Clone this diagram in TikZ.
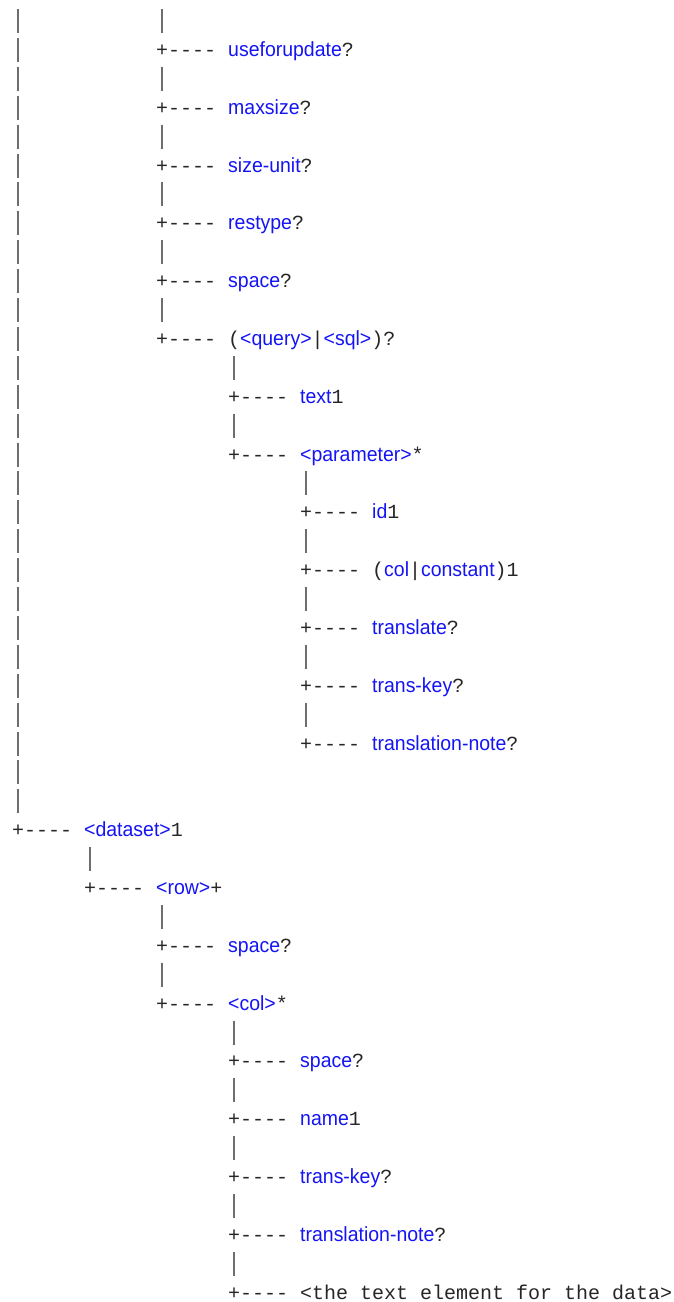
\documentclass[tikz,border=0pt]{standalone}
\usepackage{fontspec}
\newfontfamily\monofont[Ligatures=TeXOff]{Liberation Mono}
\newfontfamily\labfont[Ligatures=TeXOff,FakeStretch=0.95]{Liberation Sans}
\definecolor{monoc}{RGB}{38,38,38}
\definecolor{labc}{RGB}{20,20,245}
\definecolor{barc}{RGB}{110,110,110}
\newcommand\bl[1]{{\color{labc}\labfont\fontsize{20.5}{24}\selectfont #1}}
\tikzset{
  monotext/.style={font=\monofont\fontsize{20}{24}\selectfont, text=monoc, inner sep=0pt, anchor=base west},
  barline/.style={draw=barc, line width=1.6pt},
}
% bar: level, line
\newcommand\tbar[2]{\draw[barline] ({18+72*#1},{21+28.9*#2-12}) -- ({18+72*#1},{21+28.9*#2+12});}
% item: name, level, line, label
\newcommand\titem[4]{%
  \node[monotext] (p#1) at ({12+72*#2},{27.5+28.9*#3}) {+----};
  \node[monotext] (#1) at ({84+72*#2},{27.5+28.9*#3}) {#4};}
\begin{document}
\begin{tikzpicture}[x=1pt,y=-1pt]
\useasboundingbox (0,0) rectangle (673,1302);
\fill[white] (0,0) rectangle (673,1302);
% bars
\foreach \i in {0,...,27} {\tbar{0}{\i}}
\foreach \i in {29} {\tbar{1}{\i}}
\foreach \i in {0,2,4,6,8,10,31,33} {\tbar{2}{\i}}
\foreach \i in {12,14,35,37,39,41,43} {\tbar{3}{\i}}
\foreach \i in {16,18,20,22,24} {\tbar{4}{\i}}
% items
\titem{useforupdate}{2}{1}{\bl{useforupdate}?}
\titem{maxsize}{2}{3}{\bl{maxsize}?}
\titem{sizeunit}{2}{5}{\bl{size-unit}?}
\titem{restype}{2}{7}{\bl{restype}?}
\titem{spacea}{2}{9}{\bl{space}?}
\titem{query}{2}{11}{(\bl{<query>}|\bl{<sql>})?}
\titem{text}{3}{13}{\bl{text}1}
\titem{parameter}{3}{15}{\bl{<parameter>}*}
\titem{id}{4}{17}{\bl{id}1}
\titem{colconst}{4}{19}{(\bl{col}|\bl{constant})1}
\titem{translate}{4}{21}{\bl{translate}?}
\titem{transkeya}{4}{23}{\bl{trans-key}?}
\titem{tnotea}{4}{25}{\bl{translation-note}?}
\titem{dataset}{0}{28}{\bl{<dataset>}1}
\titem{row}{1}{30}{\bl{<row>}+}
\titem{spaceb}{2}{32}{\bl{space}?}
\titem{col}{2}{34}{\bl{<col>}*}
\titem{spacec}{3}{36}{\bl{space}?}
\titem{name}{3}{38}{\bl{name}1}
\titem{transkeyb}{3}{40}{\bl{trans-key}?}
\titem{tnoteb}{3}{42}{\bl{translation-note}?}
\titem{data}{3}{44}{<the text element for the data>}
\end{tikzpicture}
\end{document}
